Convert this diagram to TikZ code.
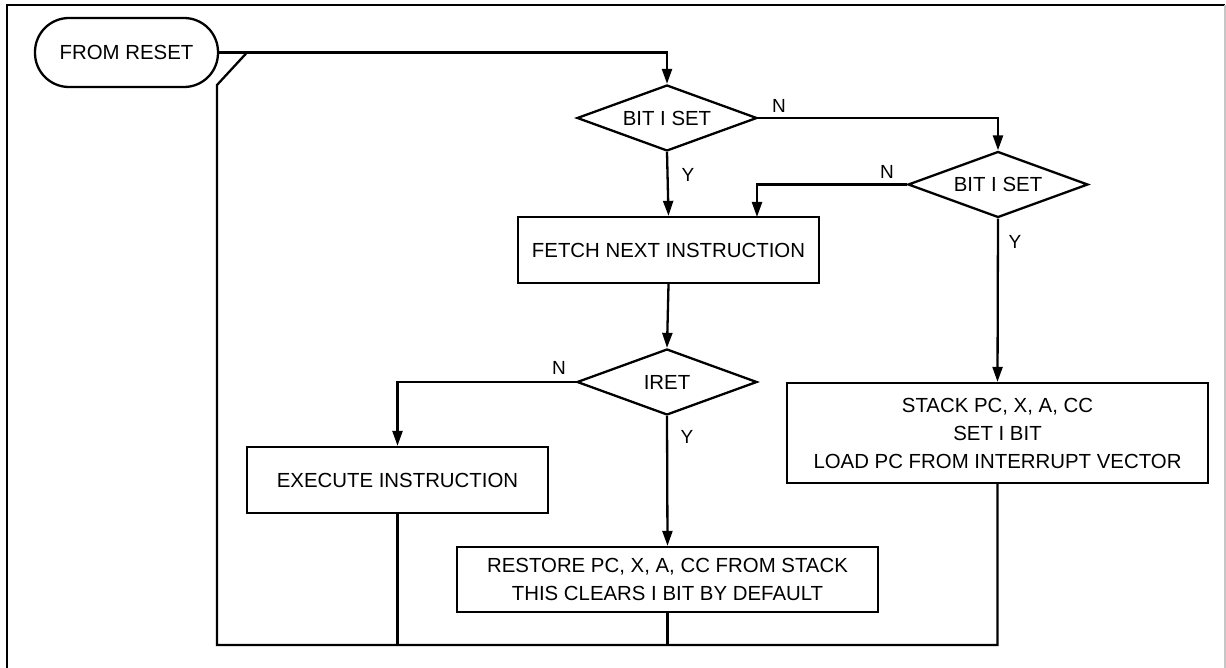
\documentclass[tikz,border=0pt]{standalone}
\usepackage{fontspec}
\setmainfont{Liberation Sans}
\usetikzlibrary{arrows.meta,shapes.geometric,positioning}

\begin{document}
\begin{tikzpicture}[x=0.5pt,y=-0.5pt,line width=1.15pt,
  font=\fontsize{10.2}{14}\selectfont,
  >={Triangle[length=7.5pt,width=5pt]},
  box/.style={draw,rectangle,inner sep=0pt,align=center},
  test/.style={draw,diamond,shape aspect=2.7,inner sep=0pt,minimum width=90pt,minimum height=33pt},
  term/.style={draw,rectangle,rounded corners=17pt,minimum width=91.5pt,minimum height=34.5pt},
  yn/.style={inner sep=0pt,font=\fontsize{9.5}{11}\selectfont}]
\useasboundingbox (0,0) rectangle (1226,668);
% frame
\draw (7,668) -- (7,5) -- (1225,5);
\draw[gray!45,line width=0.8pt] (1225,5) -- (1225,668);

\node[term] (reset) at (126.5,52.5) {FROM RESET};
\node[test] (bit1) at (667,118) {BIT I SET};
\node[test] (bit2) at (998,184.5) {BIT I SET};
\node[box,minimum width=150.5pt,minimum height=33pt] (fetch) at (668.5,250) {FETCH NEXT INSTRUCTION};
\node[test] (iret) at (667,382) {IRET};
\node[box,minimum width=150.5pt,minimum height=33pt] (exec) at (397.5,480) {EXECUTE INSTRUCTION};
\node[box,minimum width=210.5pt,minimum height=32.5pt] (restore) at (667.5,579.5)
  {RESTORE PC, X, A, CC FROM STACK\\THIS CLEARS I BIT BY DEFAULT};
\node[box,minimum width=210.5pt,minimum height=50pt] (stack) at (997.5,433)
  {STACK PC, X, A, CC\\SET I BIT\\LOAD PC FROM INTERRUPT VECTOR};

\coordinate (fetchin) at (757,217);
\coordinate (loopbl) at (217,645);
\coordinate (loopup) at (217,85);
\coordinate (loopin) at (247,52.5);

\draw[->] (reset.east) -| (bit1.north);
\draw[->] (bit1.east) -| (bit2.north);
\draw[->] (bit1.south) -- (fetch.north);
\draw[->] (bit2.west) -| (fetchin);
\draw[->] (bit2.south) -- (stack.north);
\draw[->] (fetch.south) -- (iret.north);
\draw[->] (iret.west) -| (exec.north);
\draw[->] (iret.south) -- (restore.north);
\draw (stack.south) |- (loopbl) -- (loopup) -- (loopin);
\draw (exec.south) -- (exec.south |- loopbl);
\draw (restore.south) -- (restore.south |- loopbl);

\node[yn] (n1) at (779,106) {N};
\node[yn] (y1) at (688,175) {Y};
\node[yn] (n2) at (887,172) {N};
\node[yn] (y2) at (1015,242) {Y};
\node[yn] (n3) at (559,368) {N};
\node[yn] (y3) at (687,437) {Y};
\end{tikzpicture}
\end{document}
